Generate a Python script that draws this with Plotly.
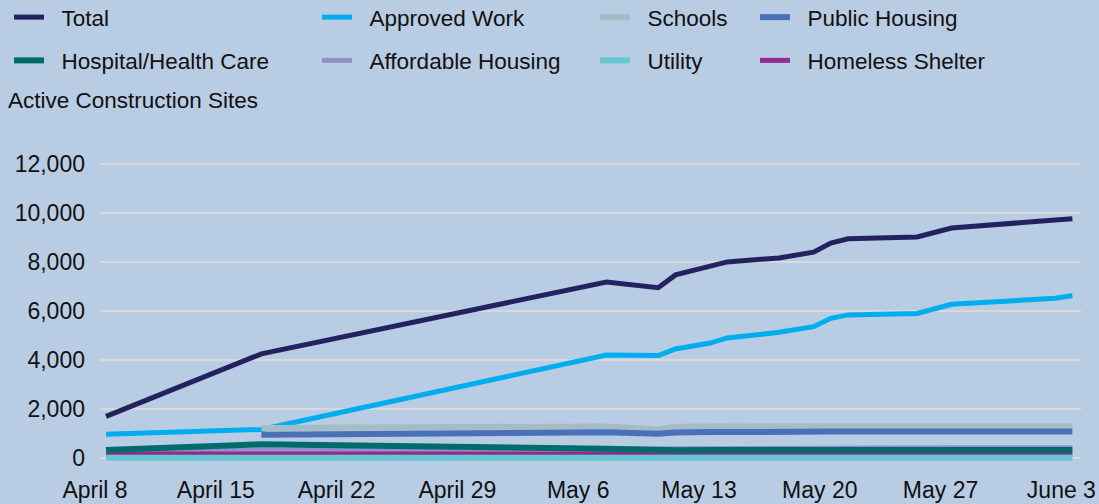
import plotly.graph_objects as go

dates = ["2020-04-08", "2020-04-17", "2020-05-07", "2020-05-10", "2020-05-11",
         "2020-05-13", "2020-05-14", "2020-05-17", "2020-05-19", "2020-05-20",
         "2020-05-21", "2020-05-25", "2020-05-27", "2020-06-02", "2020-06-03"]

total = [1700, 4250, 7180, 6950, 7470, 7790, 8000, 8160, 8400, 8770, 8940, 9020, 9380, 9710, 9760]
approved_work = [970, 1170, 4200, 4180, 4450, 4690, 4900, 5130, 5360, 5700, 5840, 5900, 6270, 6520, 6620]
schools = [None, 1230, 1290, 1170, 1280, 1290, 1300, 1300, 1300, 1300, 1300, 1300, 1310, 1310, 1300]
public_housing = [None, 950, 1050, 990, 1040, 1060, 1070, 1075, 1080, 1080, 1080, 1080, 1085, 1085, 1080]
hospital = [330, 560, 380, 290, 320, 330, 330, 330, 330, 330, 330, 330, 330, 330, 330]
affordable = [300, 330, 380, 370, 390, 400, 400, 410, 410, 410, 410, 410, 420, 420, 420]
utility = [10, 10, 10, 10, 10, 10, 10, 10, 10, 10, 10, 10, 10, 10, 10]
homeless = [170, 170, 170, 170, 170, 170, 170, 170, 170, 170, 170, 170, 170, 170, 170]

tick_dates = ["2020-04-08", "2020-04-15", "2020-04-22", "2020-04-29", "2020-05-06",
              "2020-05-13", "2020-05-20", "2020-05-27", "2020-06-03"]
tick_labels = ["April 8", "April 15", "April 22", "April 29", "May 6",
               "May 13", "May 20", "May 27", "June 3"]
y_ticks = [0, 2000, 4000, 6000, 8000, 10000, 12000]

FONT = "Liberation Sans"
TXT = "#111111"
PAD = "\u00a0\u00a0"  # gap between legend swatch and its label
fig = go.Figure()

# (name, values, color, width, legend id) in drawing order
series = [
    ("Total", total, "#24215F", 5, "legend"),
    ("Approved Work", approved_work, "#00AEEF", 5, "legend2"),
    ("Schools", schools, "#A4BCC6", 6, "legend3"),
    ("Public Housing", public_housing, "#4A70B8", 6, "legend4"),
    ("Affordable Housing", affordable, "#8E92C8", 5, "legend2"),
    ("Homeless Shelter", homeless, "#952A8E", 5, "legend4"),
    ("Utility", utility, "#66C9D1", 6, "legend3"),
    ("Hospital/Health Care", hospital, "#006B6B", 6, "legend"),
]
legend_rank = {"Total": 1, "Approved Work": 1, "Schools": 1, "Public Housing": 1,
               "Hospital/Health Care": 2, "Affordable Housing": 2, "Utility": 2, "Homeless Shelter": 2}

for name, vals, color, w, lg in series:
    fig.add_trace(go.Scatter(
        x=dates, y=vals, name=PAD + name, mode="lines",
        line=dict(color=color, width=w), legend=lg,
        legendgroup=name, legendrank=legend_rank[name],
        connectgaps=False, cliponaxis=False,
    ))

legend_common = dict(orientation="v", bgcolor="rgba(0,0,0,0)", font=dict(family=FONT, size=22.5, color=TXT),
                     xref="container", yref="container", xanchor="left", yanchor="middle",
                     tracegroupgap=11, itemwidth=30)
legend_x = [9, 317, 595, 755]
legend_y = 1 - 39 / 504
bg = "#B8CCE4"

fig.update_layout(
    width=1099, height=504,
    paper_bgcolor=bg, plot_bgcolor=bg,
    margin=dict(l=100, r=18, t=154, b=41, autoexpand=False),
    font=dict(family=FONT, size=22, color=TXT),
    legend=dict(x=legend_x[0] / 1099, y=legend_y, **legend_common),
    legend2=dict(x=legend_x[1] / 1099, y=legend_y, **legend_common),
    legend3=dict(x=legend_x[2] / 1099, y=legend_y, **legend_common),
    legend4=dict(x=legend_x[3] / 1099, y=legend_y, **legend_common),
    xaxis=dict(
        type="date", range=["2020-04-07 15:36", "2020-06-03 12:00"],
        tickvals=tick_dates, ticktext=tick_labels, showgrid=False, zeroline=False,
        showline=False, ticks="", ticklabelstandoff=11, ticklabelshift=-11,
        tickfont=dict(family=FONT, size=23, color=TXT), automargin=False,
    ),
    yaxis=dict(
        range=[-200, 12400], tickvals=y_ticks, tickformat=",", showgrid=True,
        gridcolor="#D9D9D9", gridwidth=2, zeroline=False, showline=False, ticks="",
        ticklabelstandoff=14, tickfont=dict(family=FONT, size=23, color=TXT),
        automargin=False,
    ),
    annotations=[dict(
        text="Active Construction Sites", xref="paper", yref="paper",
        x=(6 - 100) / 981, y=(463 - 101) / 309, xanchor="left", yanchor="middle",
        showarrow=False, font=dict(family=FONT, size=22.5, color=TXT),
    )],
)

fig.write_html(
    "out.html",
    config={"displayModeBar": False},
    post_script="document.body.style.margin='0';document.body.style.overflow='hidden';",
)
